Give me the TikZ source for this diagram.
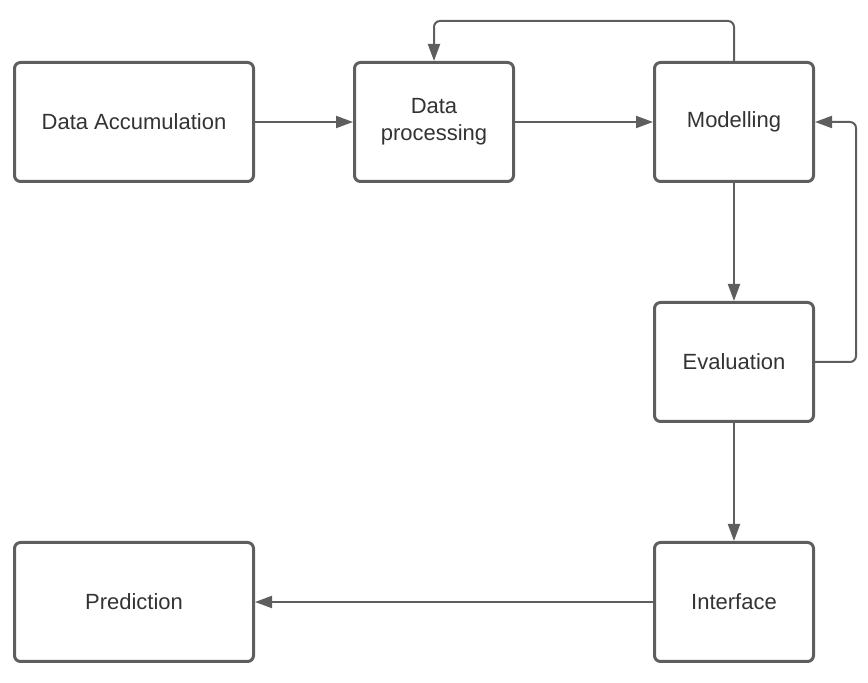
\documentclass[tikz,border=0pt]{standalone}
\usepackage{fontspec}
\setmainfont{Liberation Sans}
\usetikzlibrary{arrows.meta,positioning}
\definecolor{linegray}{HTML}{5E5E5E}
\definecolor{textgray}{HTML}{333333}
\tikzset{arrows={-{Triangle[length=8.5pt,width=6pt]}}}
\tikzset{block/.style={draw=linegray, line width=1.5pt, rounded corners=3pt,
    minimum width=79.5pt, minimum height=59.5pt, text=textgray, align=center,
    font=\fontsize{11}{13.5}\selectfont}}

\begin{document}
\begin{tikzpicture}[x=0.5pt, y=-0.5pt, line width=1pt, linegray]
  \useasboundingbox (0,0) rectangle (868,683);

  \node[block, minimum width=119.5pt] (accum) at (134,122) {Data Accumulation};
  \node[block] (proc) [right = 49pt of accum] {Data\\processing};
  \node[block] (model) [right = 69pt of proc] {Modelling};
  \node[block] (eval) [below = 59pt of model] {Evaluation};
  \node[block] (iface) [below = 59pt of eval] {Interface};
  \node[block, minimum width=119.5pt] (predict) [left = 199pt of iface] {Prediction};

  \draw (accum) -- (proc);
  \draw (proc) -- (model);
  \draw (model) -- (eval);
  \draw (eval) -- (iface);
  \draw (iface) -- (predict);
  % feedback loops
  \draw[rounded corners=3pt] (model.north) -- ++(0,-40) -| (proc.north);
  \draw[rounded corners=3pt] (eval.east) -- ++(41,0) |- (model.east);
\end{tikzpicture}
\end{document}
